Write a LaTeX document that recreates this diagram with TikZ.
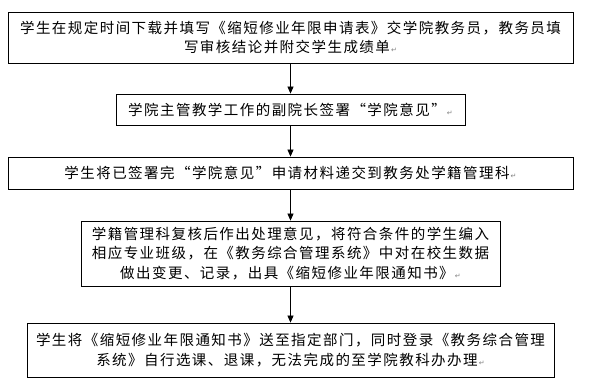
\documentclass[tikz,border=0pt]{standalone}
\usepackage{fontspec}
\usepackage{xcolor}
\usepackage{tikz}
\usetikzlibrary{arrows.meta, positioning}
\newfontfamily\cjk[LetterSpace=10]{Noto Sans CJK SC}
\newfontfamily\markfont{DejaVu Sans}
\newcommand{\parmark}{{\markfont\fontsize{7}{7}\selectfont\color{gray}\,↵}}
\tikzset{
  flowbox/.style={rectangle, draw=black, line width=0.8pt, align=center,
    inner sep=0pt, font=\cjk\fontsize{14.5}{19.5}\selectfont},
  arrow/.style={-{Triangle[length=7pt, width=6pt]}, line width=0.7pt, color=black}
}

\begin{document}
\begin{tikzpicture}[x=1pt, y=1pt,
  widebox/.style={flowbox, minimum width=565pt},
  midbox/.style={flowbox, minimum width=419pt}]
  \useasboundingbox (0,0) rectangle (592,390);

  \node[widebox, minimum height=51pt] (apply) at (290.5, 352.5)
    {学生在规定时间下载并填写《缩短修业年限申请表》交学院教务员，教务员填\\写审核结论并附交学生成绩单\parmark};
  \node[flowbox, minimum width=349pt, minimum height=31pt] (sign) at (290.5, 280.5)
    {学院主管教学工作的副院长签署“学院意见”\parmark};
  \node[widebox, minimum height=32pt] (submit) at (290.5, 217)
    {学生将已签署完“学院意见”申请材料递交到教务处学籍管理科\parmark};
  \node[midbox, minimum height=65pt] (review) at (290.5, 136.5)
    {学籍管理科复核后作出处理意见，将符合条件的学生编入\\相应专业班级，在《教务综合管理系统》中对在校生数据\\做出变更、记录，出具《缩短修业年限通知书》\parmark};
  \node[flowbox, minimum width=527pt, minimum height=54pt] (notice) at (290.5, 40)
    {学生将《缩短修业年限通知书》送至指定部门，同时登录《教务综合管理\\系统》自行选课、退课，无法完成的至学院教科办办理\parmark};

  \draw[arrow] (apply.south) -- (sign.north);
  \draw[arrow] (sign.south) -- (submit.north);
  \draw[arrow] (submit.south) -- (review.north);
  \draw[arrow] (review.south) -- (notice.north);
\end{tikzpicture}
\end{document}
